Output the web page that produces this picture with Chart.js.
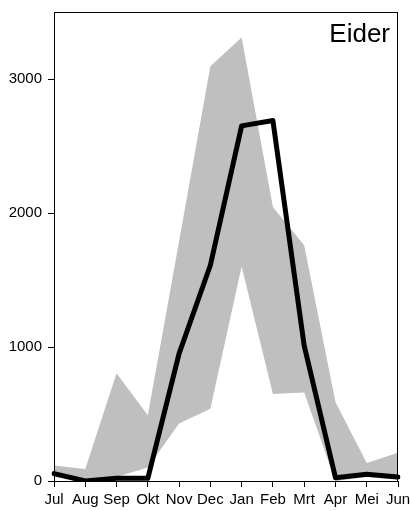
<!DOCTYPE html>
<html>
<head>
<meta charset="utf-8">
<script src="https://cdn.jsdelivr.net/npm/chart.js@4"></script>
<style>
    html, body { margin: 0; padding: 0; background: #fff; }
    #wrap { width: 410px; height: 511px; }
</style>
</head>
<body>
<div id="wrap"><canvas id="eiderChart"></canvas></div>
<script>
const months = ['Jul', 'Aug', 'Sep', 'Okt', 'Nov', 'Dec', 'Jan', 'Feb', 'Mrt', 'Apr', 'Mei', 'Jun'];
const meanCounts = [55, 0, 20, 20, 950, 1610, 2650, 2690, 1010, 25, 50, 30];
const rangeUpper = [115, 90, 805, 490, 1790, 3095, 3310, 2045, 1760, 590, 135, 210];
const rangeLower = [30, 0, 30, 100, 430, 540, 1600, 650, 660, 0, 30, 10];
const yTicks = [0, 1000, 2000, 3000];
const speciesName = 'Eider';

const boxPlugin = {
    id: 'boxPlugin',
    afterDraw(chart) {
        const ctx = chart.ctx;
        const a = chart.chartArea;
        ctx.save();
        ctx.strokeStyle = '#000';
        ctx.lineWidth = 1;
        ctx.strokeRect(a.left + 0.5, a.top + 0.5, a.right - a.left - 1, a.bottom - a.top);
        ctx.fillStyle = '#000';
        ctx.font = '26px "Liberation Sans", Arial, sans-serif';
        ctx.textAlign = 'right';
        ctx.textBaseline = 'alphabetic';
        ctx.fillText(speciesName, a.right - 8, a.top + 30);
        ctx.restore();
    }
};

const ctx = document.getElementById('eiderChart').getContext('2d');
new Chart(ctx, {
    type: 'line',
    data: {
        labels: months,
        datasets: [
            {
                label: 'Gemiddelde',
                data: meanCounts,
                borderColor: '#000',
                borderWidth: 5,
                borderJoinStyle: 'round',
                borderCapStyle: 'round',
                pointRadius: 0,
                fill: false,
                tension: 0,
                order: 0
            },
            {
                label: 'Maximum',
                data: rangeUpper,
                borderWidth: 0,
                borderColor: 'rgba(0,0,0,0)',
                backgroundColor: '#bfbfbf',
                pointRadius: 0,
                fill: '+1',
                tension: 0,
                order: 1
            },
            {
                label: 'Minimum',
                data: rangeLower,
                borderWidth: 0,
                borderColor: 'rgba(0,0,0,0)',
                pointRadius: 0,
                fill: false,
                tension: 0,
                order: 2
            }
        ]
    },
    options: {
        responsive: true,
        maintainAspectRatio: false,
        animation: false,
        layout: {
            padding: { left: 0, right: 12, top: 12, bottom: 0 }
        },
        plugins: {
            legend: { display: false },
            tooltip: { enabled: false }
        },
        scales: {
            x: {
                offset: false,
                grid: {
                    display: true,
                    drawOnChartArea: false,
                    drawTicks: true,
                    tickLength: 6,
                    tickColor: '#000',
                    color: '#000'
                },
                border: { display: true, color: '#000', width: 1 },
                ticks: {
                    color: '#000',
                    padding: 4,
                    maxRotation: 0,
                    autoSkip: false,
                    font: { family: '"Liberation Sans Narrow", "Arial Narrow", "Liberation Sans", sans-serif', size: 15 }
                },
                afterFit(scale) {
                    scale.height = 30;
                    scale.paddingLeft = 0;
                    scale.paddingRight = 0;
                }
            },
            y: {
                min: 0,
                max: 3500,
                grid: {
                    display: true,
                    drawOnChartArea: false,
                    drawTicks: true,
                    tickLength: 6,
                    tickColor: '#000',
                    color: '#000'
                },
                border: { display: true, color: '#000', width: 1 },
                ticks: {
                    color: '#000',
                    padding: 6,
                    font: { family: '"Liberation Sans", Arial, sans-serif', size: 15 },
                    callback: value => String(value)
                },
                afterBuildTicks(scale) {
                    scale.ticks = yTicks.map(v => ({ value: v }));
                },
                afterFit(scale) {
                    scale.width = 54;
                    scale.paddingTop = 0;
                    scale.paddingBottom = 0;
                }
            }
        }
    },
    plugins: [boxPlugin]
});
</script>
</body>
</html>
